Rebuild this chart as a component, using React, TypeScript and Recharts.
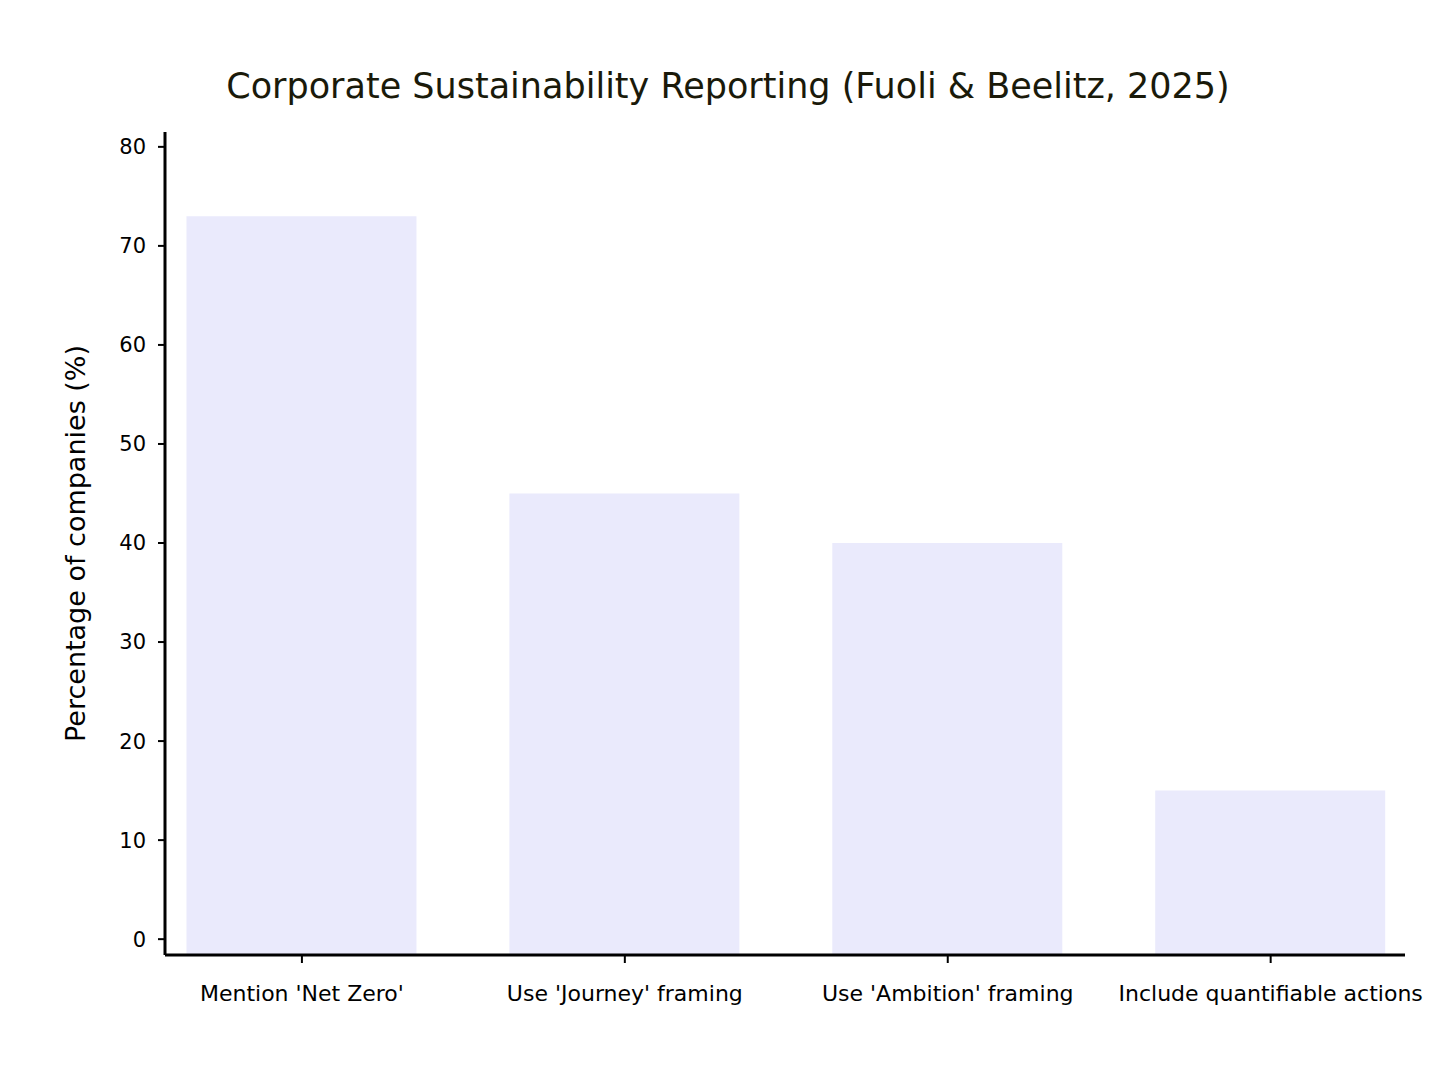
import { Bar, BarChart, XAxis, YAxis, Label } from "recharts";

const categories = [
  "Mention 'Net Zero'",
  "Use 'Journey' framing",
  "Use 'Ambition' framing",
  "Include quantifiable actions",
];
const values = [73, 45, 40, 15];
const yTicks = [0, 10, 20, 30, 40, 50, 60, 70, 80];
const Y_MIN = -1.6;

const data = categories.map((c, i) => ({ pos: i, name: c, range: [Y_MIN, values[i]] }));

const font = "'DejaVu Sans', sans-serif";

export default function App() {
  return (
    <div style={{ position: "relative", width: 1440, height: 1060, fontFamily: font }}>
      <div
        style={{
          position: "absolute",
          top: 58,
          left: 0,
          width: 1440,
          textAlign: "center",
          fontSize: 35,
          color: "#1a1a0a",
        }}
      >
        Corporate Sustainability Reporting (Fuoli &amp; Beelitz, 2025)
      </div>
      <BarChart
        width={1440}
        height={1060}
        data={data}
        margin={{ top: 124, right: 43, bottom: 73, left: 77 }}
      >
        <XAxis
          dataKey="pos"
          type="number"
          domain={[-0.424, 3.416]}
          ticks={[0, 1, 2, 3]}
          tickFormatter={(v: number) => categories[v]}
          interval={0}
          height={40}
          stroke="#000"
          axisLine={{ stroke: "#000", strokeWidth: 3 }}
          tickLine={{ stroke: "#000", strokeWidth: 2 }}
          tickSize={8}
          tick={{ fontSize: 22, fill: "#000", fontFamily: font, dy: 20 }}
        />
        <YAxis
          type="number"
          domain={[Y_MIN, 81.5]}
          ticks={yTicks}
          width={80}
          axisLine={{ stroke: "#000", strokeWidth: 3 }}
          tickLine={{ stroke: "#000", strokeWidth: 2 }}
          tickSize={7}
          tick={{ fontSize: 21, fill: "#000", fontFamily: font, dx: -10 }}
        >
          <Label
            value="Percentage of companies (%)"
            angle={-90}
            position="insideLeft"
            offset={-10}
            style={{ fontSize: 27, fill: "#000", fontFamily: font, textAnchor: "middle" }}
          />
        </YAxis>
        <Bar dataKey="range" fill="#eaeafc" barSize={230} isAnimationActive={false} />
      </BarChart>
    </div>
  );
}
